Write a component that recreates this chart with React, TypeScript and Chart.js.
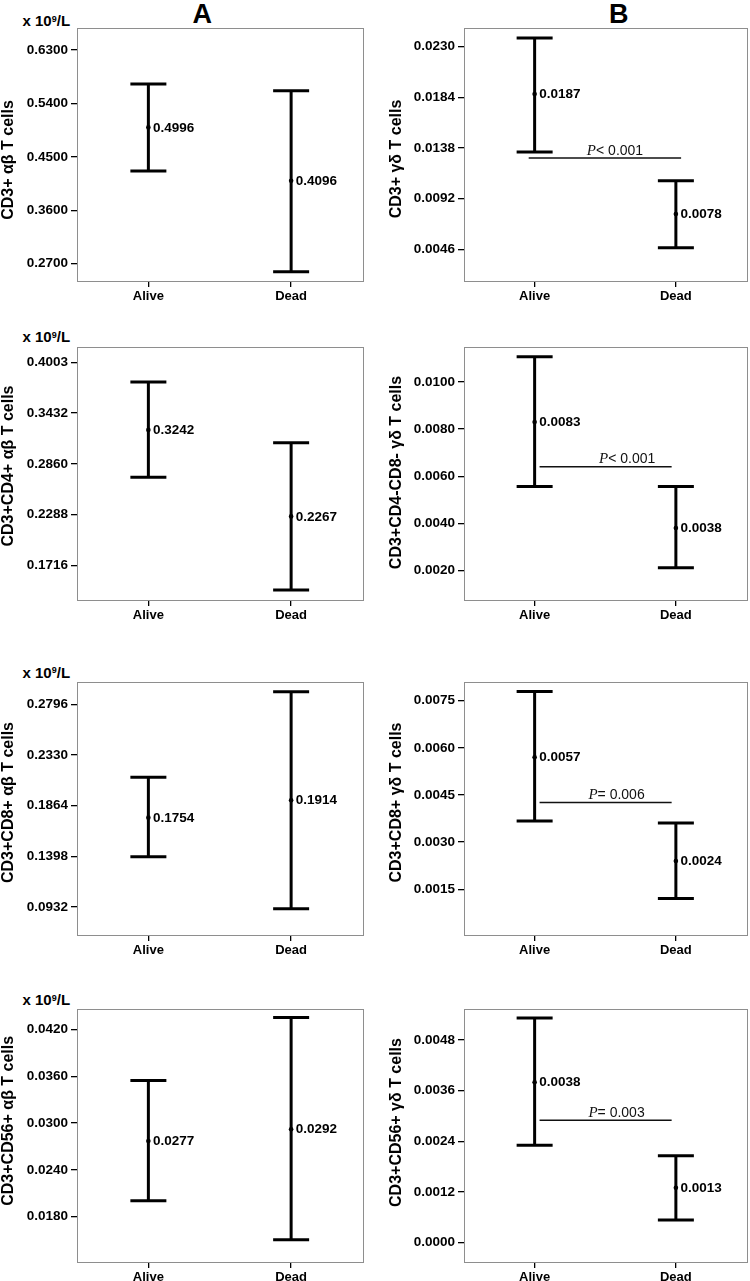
import React, { useEffect, useRef } from 'react';
import { Chart, registerables } from 'chart.js';

Chart.register(...registerables);

const SANS = '"Liberation Sans", Arial, Helvetica, sans-serif';
const SERIF = '"Liberation Serif", "Times New Roman", serif';

const groups = ['Alive', 'Dead'];

// ---- Column A ----
const a1Name = 'CD3+ αβ T cells';
const a1Mean = [0.4996, 0.4096];
const a1Upper = [0.5727, 0.5614];
const a1Lower = [0.4261, 0.2564];
const a1Ticks = [0.27, 0.36, 0.45, 0.54, 0.63];
const a1Axis = [0.2407, 0.6671];

const a2Name = 'CD3+CD4+ αβ T cells';
const a2Mean = [0.3242, 0.2267];
const a2Upper = [0.3781, 0.3097];
const a2Lower = [0.2707, 0.1437];
const a2Ticks = [0.1716, 0.2288, 0.286, 0.3432, 0.4003];
const a2Axis = [0.1325, 0.4176];

const a3Name = 'CD3+CD8+ αβ T cells';
const a3Mean = [0.1754, 0.1914];
const a3Upper = [0.2125, 0.2912];
const a3Lower = [0.1395, 0.0916];
const a3Ticks = [0.0932, 0.1398, 0.1864, 0.233, 0.2796];
const a3Axis = [0.0675, 0.3001];

const a4Name = 'CD3+CD56+ αβ T cells';
const a4Mean = [0.0277, 0.0292];
const a4Upper = [0.03545, 0.0435];
const a4Lower = [0.02005, 0.01505];
const a4Ticks = [0.018, 0.024, 0.03, 0.036, 0.042];
const a4Axis = [0.0122, 0.0446];

// ---- Column B ----
const b1Name = 'CD3+ γδ T cells';
const b1Mean = [0.0187, 0.0078];
const b1Upper = [0.0238, 0.01083];
const b1Lower = [0.01344, 0.00475];
const b1Ticks = [0.0046, 0.0092, 0.0138, 0.0184, 0.023];
const b1Axis = [0.00172, 0.0247];
const b1PText = '< 0.001';
const b1PLevel = 0.01289;

const b2Name = 'CD3+CD4-CD8- γδ T cells';
const b2Mean = [0.0083, 0.0038];
const b2Upper = [0.01107, 0.00556];
const b2Lower = [0.00556, 0.00211];
const b2Ticks = [0.002, 0.004, 0.006, 0.008, 0.01];
const b2Axis = [0.00074, 0.011487];
const b2PText = '< 0.001';
const b2PLevel = 0.0064;

const b3Name = 'CD3+CD8+ γδ T cells';
const b3Mean = [0.0057, 0.0024];
const b3Upper = [0.00779, 0.00361];
const b3Lower = [0.00367, 0.00121];
const b3Ticks = [0.0015, 0.003, 0.0045, 0.006, 0.0075];
const b3Axis = [0.000046, 0.008095];
const b3PText = '= 0.006';
const b3PLevel = 0.00426;

const b4Name = 'CD3+CD56+ γδ T cells';
const b4Mean = [0.0038, 0.0013];
const b4Upper = [0.00532, 0.00206];
const b4Lower = [0.00231, 0.00054];
const b4Ticks = [0, 0.0012, 0.0024, 0.0036, 0.0048];
const b4Axis = [-0.000457, 0.005534];
const b4PText = '= 0.003';
const b4PLevel = 0.0029;

const unitLabel = 'x 10';
const unitSup = '9';
const unitTail = '/L';

type PInfo = { text: string; level: number; from: number; to: number; textAt: number };

type PanelProps = {
  name: string;
  mean: number[];
  upper: number[];
  lower: number[];
  ticks: number[];
  axis: number[];
  col: number;
  frameTop: number;
  titleShift: number;
  p?: PInfo;
};

const FRAME_H = 253;
const PAD_TOP = 20;
const X_AXIS_H = 28;
const CANVAS_H = PAD_TOP + FRAME_H + X_AXIS_H;

function Panel(props: PanelProps) {
  const ref = useRef<HTMLCanvasElement>(null);
  useEffect(() => {
    const { name, mean, upper, lower, ticks, axis, col, titleShift, p } = props;
    const yAxisW = col === 0 ? 77 : 89;
    const padRight = col === 0 ? 12.5 : 3.5;
    const titleX = col === 0 ? 9 : 21.5;

    const datasets: any[] = [];
    groups.forEach((_g, i) => {
      datasets.push({
        data: [
          { x: i, y: lower[i] },
          { x: i, y: upper[i] },
        ],
        borderColor: '#000',
        borderWidth: 3,
        pointStyle: 'line',
        pointRadius: 18,
        pointHoverRadius: 18,
        pointBorderWidth: 3,
        pointBorderColor: '#000',
        pointBackgroundColor: '#000',
      });
    });
    datasets.push({
      data: mean.map((v, i) => ({ x: i, y: v })),
      showLine: false,
      pointStyle: 'circle',
      pointRadius: 2.3,
      pointHoverRadius: 2.3,
      pointBackgroundColor: '#000',
      pointBorderColor: '#000',
      pointBorderWidth: 0,
    });
    if (p) {
      datasets.push({
        data: [
          { x: p.from, y: p.level },
          { x: p.to, y: p.level },
        ],
        borderColor: '#111',
        borderWidth: 1.4,
        pointRadius: 0,
        pointHoverRadius: 0,
      });
    }

    const deco = {
      id: 'deco',
      beforeDatasetsDraw(chart: any) {
        const { ctx, chartArea: a } = chart;
        ctx.save();
        ctx.strokeStyle = '#8e8e8e';
        ctx.lineWidth = 1;
        ctx.strokeRect(Math.round(a.left) + 0.5, Math.round(a.top) + 0.5, Math.round(a.right - a.left), Math.round(a.bottom - a.top));
        ctx.restore();
      },
      afterDatasetsDraw(chart: any) {
        const { ctx, chartArea: a, scales } = chart;
        ctx.save();
        const meta = chart.getDatasetMeta(groups.length);
        ctx.fillStyle = '#000';
        ctx.font = `bold 13.5px ${SANS}`;
        ctx.textAlign = 'left';
        ctx.textBaseline = 'middle';
        meta.data.forEach((pt: any, i: number) => {
          ctx.fillText(mean[i].toFixed(4), pt.x + 4.5, pt.y + 0.5);
        });
        if (p) {
          const yy = scales.y.getPixelForValue(p.level) - 3.5;
          const cx = scales.x.getPixelForValue(p.textAt);
          ctx.font = `italic 15px ${SERIF}`;
          const wP = ctx.measureText('P').width;
          ctx.font = `14px ${SANS}`;
          const wR = ctx.measureText(p.text).width;
          const x0 = cx - (wP + wR) / 2;
          ctx.textBaseline = 'alphabetic';
          ctx.textAlign = 'left';
          ctx.font = `italic 15px ${SERIF}`;
          ctx.fillStyle = '#111';
          ctx.fillText('P', x0, yy);
          ctx.font = `14px ${SANS}`;
          ctx.fillText(p.text, x0 + wP, yy);
        }
        ctx.translate(titleX, (a.top + a.bottom) / 2 + titleShift);
        ctx.rotate(-Math.PI / 2);
        ctx.font = `bold 16px ${SANS}`;
        ctx.fillStyle = '#000';
        ctx.textAlign = 'center';
        ctx.textBaseline = 'middle';
        ctx.fillText(name, 0, 0);
        ctx.restore();
      },
    };

    const chart = new Chart(ref.current as HTMLCanvasElement, {
      type: 'line',
      data: { datasets },
      options: {
        animation: false,
        responsive: false,
        events: [],
        layout: { autoPadding: false, padding: { top: PAD_TOP, right: padRight, bottom: 0, left: 0 } },
        plugins: {
          legend: { display: false },
          tooltip: { enabled: false },
          title: { display: false },
        },
        scales: {
          x: {
            type: 'linear',
            min: -0.5,
            max: 1.5,
            afterBuildTicks: (s: any) => {
              s.ticks = groups.map((_g, i) => ({ value: i }));
            },
            afterFit: (s: any) => {
              s.height = X_AXIS_H;
            },
            ticks: {
              callback: (v: any) => groups[Number(v)] ?? '',
              font: { family: SANS, size: 13, weight: 'bold' },
              color: '#000',
              padding: 2,
              autoSkip: false,
              maxRotation: 0,
              minRotation: 0,
            },
            grid: { drawOnChartArea: false, drawTicks: true, tickLength: 6, color: '#000', lineWidth: 1.3 },
            border: { display: false },
          },
          y: {
            type: 'linear',
            min: axis[0],
            max: axis[1],
            afterBuildTicks: (s: any) => {
              s.ticks = ticks.map((v) => ({ value: v }));
            },
            afterFit: (s: any) => {
              s.width = yAxisW;
            },
            ticks: {
              callback: (v: any) => Number(v).toFixed(4),
              font: { family: SANS, size: 13.5, weight: 'bold' },
              color: '#000',
              padding: 3,
              autoSkip: false,
            },
            grid: { drawOnChartArea: false, drawTicks: true, tickLength: 6, color: '#000', lineWidth: 1.3 },
            border: { display: false },
          },
        },
      } as any,
      plugins: [deco],
    });
    return () => chart.destroy();
  }, []);
  return (
    <canvas
      ref={ref}
      width={375}
      height={CANVAS_H}
      style={{ position: 'absolute', left: props.col * 375, top: props.frameTop - PAD_TOP, width: 375, height: CANVAS_H }}
    />
  );
}

function Unit({ top }: { top: number }) {
  return (
    <div
      style={{
        position: 'absolute',
        left: 22.5,
        top,
        font: `bold 15px ${SANS}`,
        lineHeight: '15px',
        color: '#000',
        whiteSpace: 'nowrap',
      }}
    >
      {unitLabel}
      <span style={{ fontSize: 9, position: 'relative', top: -4.5 }}>{unitSup}</span>
      {unitTail}
    </div>
  );
}

function Header({ text, cx }: { text: string; cx: number }) {
  return (
    <div
      style={{
        position: 'absolute',
        left: cx - 50,
        width: 100,
        top: 0,
        textAlign: 'center',
        font: `bold 27px ${SANS}`,
        lineHeight: '28px',
        color: '#000',
      }}
    >
      {text}
    </div>
  );
}

const rowTops = [28, 347, 682, 1009];

export default function App() {
  return (
    <div style={{ position: 'absolute', left: 0, top: 0, width: 750, height: 1281, overflow: 'hidden', background: '#fff' }}>
      <Header text="A" cx={202.3} />
      <Header text="B" cx={618.7} />
      <Unit top={13} />
      <Unit top={329} />
      <Unit top={664.6} />
      <Unit top={992.3} />
      <Panel name={a1Name} mean={a1Mean} upper={a1Upper} lower={a1Lower} ticks={a1Ticks} axis={a1Axis} col={0} frameTop={rowTops[0]} titleShift={5.5} />
      <Panel name={a2Name} mean={a2Mean} upper={a2Upper} lower={a2Lower} ticks={a2Ticks} axis={a2Axis} col={0} frameTop={rowTops[1]} titleShift={-7.5} />
      <Panel name={a3Name} mean={a3Mean} upper={a3Upper} lower={a3Lower} ticks={a3Ticks} axis={a3Axis} col={0} frameTop={rowTops[2]} titleShift={-6} />
      <Panel name={a4Name} mean={a4Mean} upper={a4Upper} lower={a4Lower} ticks={a4Ticks} axis={a4Axis} col={0} frameTop={rowTops[3]} titleShift={-14.7} />
      <Panel name={b1Name} mean={b1Mean} upper={b1Upper} lower={b1Lower} ticks={b1Ticks} axis={b1Axis} col={1} frameTop={rowTops[0]} titleShift={4.5}
        p={{ text: b1PText, level: b1PLevel, from: -0.042, to: 1.037, textAt: 0.569 }} />
      <Panel name={b2Name} mean={b2Mean} upper={b2Upper} lower={b2Lower} ticks={b2Ticks} axis={b2Axis} col={1} frameTop={rowTops[1]} titleShift={-1}
        p={{ text: b2PText, level: b2PLevel, from: 0.035, to: 0.97, textAt: 0.655 }} />
      <Panel name={b3Name} mean={b3Mean} upper={b3Upper} lower={b3Lower} ticks={b3Ticks} axis={b3Axis} col={1} frameTop={rowTops[2]} titleShift={-6}
        p={{ text: b3PText, level: b3PLevel, from: 0.035, to: 0.97, textAt: 0.58 }} />
      <Panel name={b4Name} mean={b4Mean} upper={b4Upper} lower={b4Lower} ticks={b4Ticks} axis={b4Axis} col={1} frameTop={rowTops[3]} titleShift={-13}
        p={{ text: b4PText, level: b4PLevel, from: 0.035, to: 0.97, textAt: 0.58 }} />
    </div>
  );
}
